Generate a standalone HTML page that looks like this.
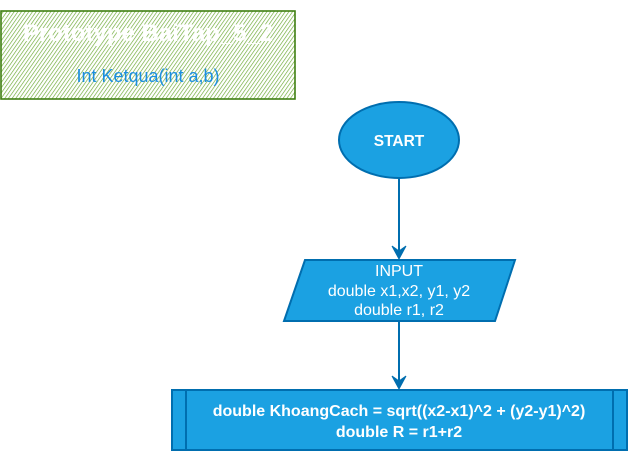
<!DOCTYPE html>
<html><head><meta charset="utf-8"><style>
body{margin:0;background:#fff;}
svg{display:block;font-family:"Liberation Sans",Arial,sans-serif;}
</style></head><body>
<svg width="629" height="452" viewBox="0 0 629 452">
<defs>
<pattern id="h" width="3" height="3" patternUnits="userSpaceOnUse" patternTransform="rotate(35)">
<line x1="0" y1="0" x2="0" y2="3" stroke="#6aa832" stroke-width="1.3"/>
</pattern>
</defs>
<rect x="1" y="11" width="294" height="88" fill="url(#h)" stroke="#3f7f12" stroke-width="1.6"/>
<text x="148" y="41" text-anchor="middle" fill="#fff" font-size="24" font-weight="bold">Prototype BaiTap_5_2</text>
<text x="148" y="82" text-anchor="middle" fill="#1c8fe0" font-size="18">Int Ketqua(int a,b)</text>

<ellipse cx="399" cy="140" rx="60" ry="38" fill="#1ba1e2" stroke="#006eaf" stroke-width="2"/>
<text x="399" y="146" text-anchor="middle" fill="#fff" font-size="15.5" font-weight="bold">START</text>

<line x1="399" y1="178" x2="399" y2="252" stroke="#006eaf" stroke-width="2"/>
<path d="M392,246 L399,259 L406,246 L399,251 Z" fill="#006eaf" stroke="#006eaf"/>

<polygon points="305,260 515,260 495,321 284,321" fill="#1ba1e2" stroke="#006eaf" stroke-width="2"/>
<text x="399" y="276" text-anchor="middle" fill="#fff" font-size="16">INPUT</text>
<text x="399" y="296" text-anchor="middle" fill="#fff" font-size="16">double x1,x2, y1, y2</text>
<text x="399" y="315" text-anchor="middle" fill="#fff" font-size="16">double r1, r2</text>

<line x1="399" y1="321" x2="399" y2="382" stroke="#006eaf" stroke-width="2"/>
<path d="M392,376 L399,389 L406,376 L399,381 Z" fill="#006eaf" stroke="#006eaf"/>

<rect x="172" y="390" width="455" height="60" fill="#1ba1e2" stroke="#006eaf" stroke-width="2"/>
<line x1="186" y1="390" x2="186" y2="450" stroke="#006eaf" stroke-width="2"/>
<line x1="613" y1="390" x2="613" y2="450" stroke="#006eaf" stroke-width="2"/>
<text x="399" y="416" text-anchor="middle" fill="#fff" font-size="16" font-weight="bold">double KhoangCach = sqrt((x2-x1)^2 + (y2-y1)^2)</text>
<text x="399" y="437" text-anchor="middle" fill="#fff" font-size="16" font-weight="bold">double R = r1+r2</text>
</svg>
</body></html>
